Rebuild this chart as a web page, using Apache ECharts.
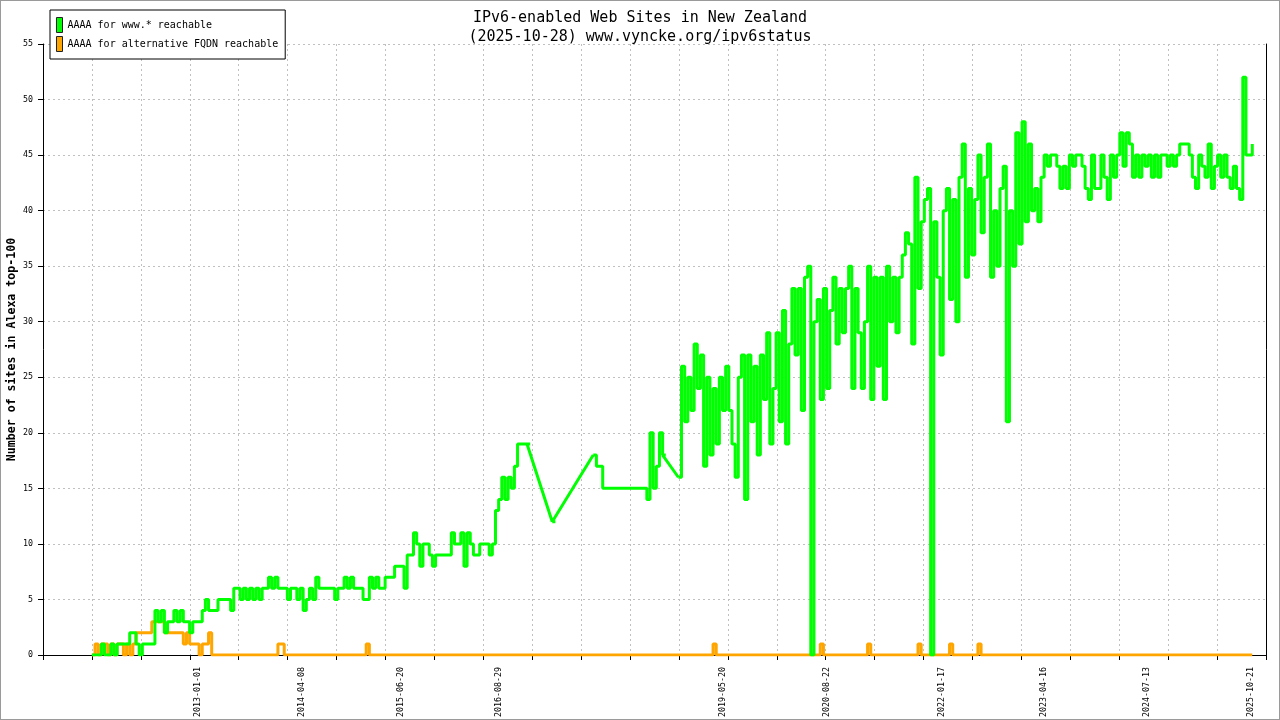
<!DOCTYPE html>
<html>
<head>
<meta charset="utf-8">
<title>IPv6-enabled Web Sites in New Zealand</title>
<script src="https://cdn.jsdelivr.net/npm/echarts@6/dist/echarts.min.js"></script>
<style>
html, body { margin: 0; padding: 0; background: #fff; }
#chart { width: 1280px; height: 720px; }
#frame { position: absolute; left: 0; top: 0; width: 1280px; height: 720px; box-sizing: border-box; border: 1px solid #9a9a9a; pointer-events: none; }
</style>
</head>
<body>
<div id="chart"></div>
<div id="frame"></div>
<script>
// samples: one every 14 days starting at firstSample, null = no measurement (gap)
var firstSample = '2011-09-18';
var sampleStepDays = 14;

var wwwReachable = [
    0,0,0,1,0,0,1,0,1,1,
    1,1,2,2,1,0,1,1,1,1,
    4,3,4,2,3,3,4,3,4,3,
    3,2,3,3,3,4,5,4,4,4,
    5,5,5,5,4,6,6,5,6,5,
    6,5,6,5,6,6,7,6,7,6,
    6,6,5,6,6,5,6,4,5,6,
    5,7,6,6,6,6,6,5,6,6,
    7,6,7,6,6,6,5,5,7,6,
    7,6,6,7,7,7,8,8,8,6,
    9,9,11,10,8,10,10,9,8,9,
    9,9,9,9,11,10,10,11,8,11,
    10,9,9,10,10,10,9,10,13,14,
    16,14,16,15,17,19,19,19,19,null,
    null,null,null,null,null,null,12,null,null,null,
    null,null,null,null,null,null,null,null,null,18,
    17,17,15,15,15,15,15,15,15,15,
    15,15,15,15,15,15,14,20,15,17,
    20,18,null,null,null,null,16,26,21,25,
    22,28,24,27,17,25,18,24,19,25,
    22,26,22,19,16,25,27,14,27,21,
    26,18,27,23,29,19,24,29,21,31,
    19,28,33,27,33,22,34,35,0,30,
    32,23,33,24,31,34,28,33,29,33,
    35,24,33,29,24,30,35,23,34,26,
    34,23,35,30,34,29,34,36,38,37,
    28,43,33,39,41,42,0,39,34,27,
    40,42,32,41,30,43,46,34,42,36,
    41,45,38,43,46,34,40,35,42,44,
    21,40,35,47,37,48,39,46,40,42,
    39,43,45,44,45,45,44,42,44,42,
    45,44,45,45,44,42,41,45,42,42,
    45,43,41,45,43,45,47,44,47,46,
    43,45,43,45,44,45,43,45,43,45,
    45,44,45,44,45,46,46,46,45,43,
    42,45,44,43,46,42,44,45,43,45,
    43,42,44,42,41,52,45,45,46
];

var altReachable = [
    0,1,0,1,1,0,1,0,1,1,
    0,1,0,1,2,2,2,2,2,3,
    3,3,3,2,2,2,2,2,2,1,
    2,1,1,1,0,1,1,2,0,0,
    0,0,0,0,0,0,0,0,0,0,
    0,0,0,0,0,0,0,0,0,1,
    1,0,0,0,0,0,0,0,0,0,
    0,0,0,0,0,0,0,0,0,0,
    0,0,0,0,0,0,0,1,0,0,
    0,0,0,0,0,0,0,0,0,0,
    0,0,0,0,0,0,0,0,0,0,
    0,0,0,0,0,0,0,0,0,0,
    0,0,0,0,0,0,0,0,0,0,
    0,0,0,0,0,0,0,0,0,0,
    0,0,0,0,0,0,0,0,0,0,
    0,0,0,0,0,0,0,0,0,0,
    0,0,0,0,0,0,0,0,0,0,
    0,0,0,0,0,0,0,0,0,0,
    0,0,0,0,0,0,0,0,0,0,
    0,0,0,0,0,0,0,1,0,0,
    0,0,0,0,0,0,0,0,0,0,
    0,0,0,0,0,0,0,0,0,0,
    0,0,0,0,0,0,0,0,0,0,
    0,1,0,0,0,0,0,0,0,0,
    0,0,0,0,0,0,1,0,0,0,
    0,0,0,0,0,0,0,0,0,0,
    0,0,1,0,0,0,0,0,0,0,
    0,0,1,0,0,0,0,0,0,0,
    0,1,0,0,0,0,0,0,0,0,
    0,0,0,0,0,0,0,0,0,0,
    0,0,0,0,0,0,0,0,0,0,
    0,0,0,0,0,0,0,0,0,0,
    0,0,0,0,0,0,0,0,0,0,
    0,0,0,0,0,0,0,0,0,0,
    0,0,0,0,0,0,0,0,0,0,
    0,0,0,0,0,0,0,0,0,0,
    0,0,0,0,0,0,0,0,0
];

var tickLabels = ['2013-01-01','2014-04-08','2015-06-20','2016-08-29','2019-05-20',
                  '2020-08-22','2022-01-17','2023-04-16','2024-07-13','2025-10-21'];

var seriesNames = ['AAAA for www.* reachable', 'AAAA for alternative FQDN reachable'];

// x axis: days counted from axisStart, one tick every tickStepDays
var axisStart = '2011-02-13';
var tickStepDays = 217.2;
var tickCount = 25;

var DAY = 86400000;
var FONT = '"DejaVu Sans Mono", "Liberation Mono", monospace';

function toDays(s) {
    return (Date.parse(s) - Date.parse(axisStart)) / DAY;
}

function toDate(d) {
    return new Date(Date.parse(axisStart) + Math.round(d) * DAY).toISOString().slice(0, 10);
}

function sampleDay(i) {
    return toDays(firstSample) + i * sampleStepDays;
}

// measured samples, null breaks the stepped line
function points(values) {
    var out = [];
    for (var i = 0; i < values.length; i++) {
        out.push([sampleDay(i), values[i] === null ? null : values[i]]);
    }
    return out;
}

// straight segments drawn across missing measurements
function bridges(values) {
    var out = [];
    var last = -1;
    for (var i = 0; i < values.length; i++) {
        if (values[i] === null) continue;
        if (last >= 0 && i - last > 1) {
            out.push([sampleDay(last), values[last]]);
            out.push([sampleDay(i), values[i]]);
            out.push([sampleDay(i), null]);
        }
        last = i;
    }
    return out;
}

function line(name, data, color, z, step) {
    return {
        name: name,
        type: 'line',
        data: data,
        step: step,
        showSymbol: false,
        symbol: 'none',
        connectNulls: false,
        color: color,
        lineStyle: { width: 3, color: color, join: 'bevel' },
        z: z
    };
}

var chart = echarts.init(document.getElementById('chart'));
var option = {
    animation: false,
    backgroundColor: '#fff',
    title: {
        text: 'IPv6-enabled Web Sites in New Zealand\n(2025-10-28) www.vyncke.org/ipv6status',
        left: 'center',
        top: 4,
        textStyle: { fontFamily: FONT, fontSize: 15, fontWeight: 'normal', color: '#000', lineHeight: 19 }
    },
    legend: {
        orient: 'vertical',
        left: 50,
        top: 10,
        padding: [7, 7, 7, 6],
        itemGap: 3,
        itemWidth: 6,
        itemHeight: 15,
        icon: 'rect',
        borderColor: '#000',
        borderWidth: 1,
        backgroundColor: '#fff',
        itemStyle: { borderColor: '#222', borderWidth: 1 },
        textStyle: { fontFamily: FONT, fontSize: 10, color: '#000' },
        data: seriesNames
    },
    grid: { left: 43, right: 14, top: 44, bottom: 65, containLabel: false, outerBoundsMode: 'none' },
    xAxis: {
        type: 'value',
        min: 0,
        max: tickStepDays * tickCount,
        interval: tickStepDays,
        axisLine: { lineStyle: { color: '#000', width: 1 } },
        axisTick: { length: 5, lineStyle: { color: '#000' } },
        axisLabel: {
            customValues: tickLabels.map(toDays),
            rotate: 90,
            margin: 12,
            fontFamily: FONT,
            fontSize: 8.3,
            color: '#000',
            formatter: function (v) { return toDate(v); }
        },
        splitLine: { show: true, lineStyle: { color: '#c0c0c0', type: [2, 3] } }
    },
    yAxis: [{
        type: 'value',
        min: 0,
        max: 55,
        interval: 5,
        name: 'Number of sites in Alexa top-100',
        nameLocation: 'middle',
        nameRotate: 90,
        nameGap: 25,
        nameMoveOverlap: false,
        nameTextStyle: { fontFamily: FONT, fontSize: 11.6, fontWeight: 'bold', color: '#000' },
        axisLine: { show: true, lineStyle: { color: '#000' } },
        axisTick: { show: true, length: 5, lineStyle: { color: '#000' } },
        axisLabel: { margin: 10, fontFamily: FONT, fontSize: 8.3, color: '#000' },
        splitLine: { show: true, lineStyle: { color: '#c0c0c0', type: [2, 3] } }
    }, {
        type: 'value',
        min: 0,
        max: 55,
        position: 'right',
        axisLine: { show: true, lineStyle: { color: '#000' } },
        axisTick: { show: false },
        axisLabel: { show: false },
        splitLine: { show: false }
    }],
    series: [
        line(seriesNames[0], points(wwwReachable), '#00ff00', 3, 'end'),
        line(seriesNames[0], bridges(wwwReachable), '#00ff00', 3, false),
        line(seriesNames[1], points(altReachable), '#ffa500', 2, 'end')
    ]
};
chart.setOption(option);
</script>
</body>
</html>
